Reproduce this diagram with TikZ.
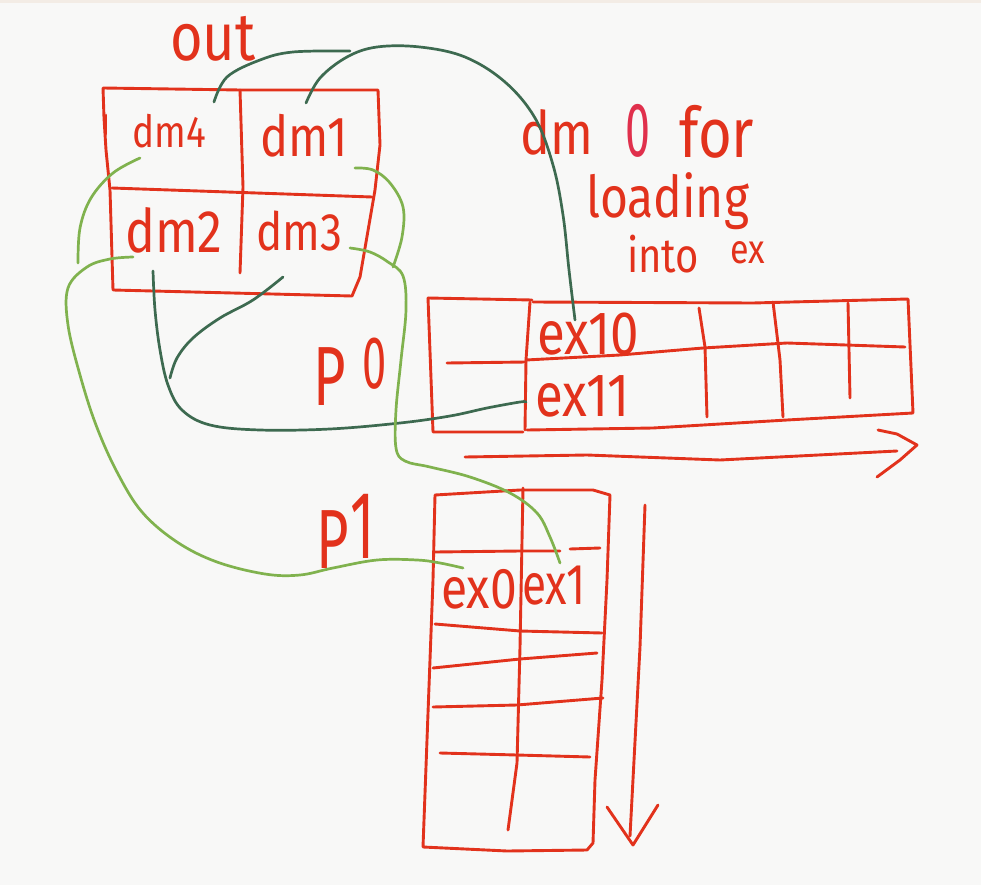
\documentclass[tikz,border=0pt]{standalone}
\usepackage{fontspec}
\setmainfont{Fira Sans}
\definecolor{penred}{HTML}{E2321C}
\definecolor{penpink}{HTML}{E0304C}
\definecolor{pendark}{HTML}{3D6A50}
\definecolor{penlight}{HTML}{80B24E}
\definecolor{paper}{HTML}{F8F8F7}
\definecolor{band}{HTML}{F3ECE5}
\tikzset{
  rd/.style={draw=penred, line width=2.9pt},
  dg/.style={draw=pendark, line width=2.7pt},
  lg/.style={draw=penlight, line width=2.7pt},
  hw/.style={text=penred, inner sep=0pt, anchor=base west, yscale=1.2},
}
\newcommand{\fs}[1]{\fontsize{#1}{#1}\selectfont}
\begin{document}
\begin{tikzpicture}[x=1pt,y=-1pt,line cap=round,line join=round]
\fill[paper] (0,0) rectangle (981,885);
\fill[band] (0,0) rectangle (981,3);
\useasboundingbox (0,0) rectangle (981,885);

% ---------- top table "out" ----------
\node[hw,font=\fs{56}] (outlbl) at (170,61) {out};
\draw[rd] (103,88) -- (240,90) -- (378,90) -- (380,145) -- (375,190) -- (360,277) -- (352,296) -- (113,290) -- (110,190) -- (106,150) -- (104,118) -- (103,88);
\draw[rd] (106,115) -- (106,134);
\draw[rd] (240,90) -- (243,187) -- (240,273);
\draw[rd] (112,188) -- (372,197);
\node[hw,font=\fs{37}] (dmfour) at (132,148) {dm4};
\node[hw,font=\fs{47}] (dmone) at (260,157) {dm1};
\node[hw,font=\fs{50}] (dmtwo) at (125,252) {dm2};
\node[hw,font=\fs{44}] (dmthree) at (256,250) {dm3};

% ---------- ex table (horizontal) ----------
\draw[rd] (428,298) -- (532,300);
\draw[rd] (533,302) -- (753,303) -- (908,299) -- (913,413) -- (787,420) -- (653,428) -- (527,430);
\draw[rd] (428,298) -- (433,432) -- (523,432);
\draw[rd] (530,302) -- (526,360) -- (525,430);
\draw[rd] (447,363) -- (526,362);
\draw[rd] (526,360) -- (620,355) -- (703,348) -- (787,343) -- (905,347);
\draw[rd] (699,308) -- (705,347) -- (707,417);
\draw[rd] (773,302) -- (780,360) -- (783,417);
\draw[rd] (848,303) -- (850,398);
\node[hw,font=\fs{51}] (exten) at (537,354) {ex10};
\node[hw,font=\fs{51}] (exeleven) at (535,416) {ex11};
% arrow to the right
\coordinate (rarrA) at (465,457);
\coordinate (rarrB) at (897,451);
\draw[rd] (rarrA) -- (587,455) -- (720,460) -- (rarrB);
\draw[rd] (878,430) -- (897,434) -- (917,445) -- (900,460) -- (877,477);

% ---------- ex table (vertical) ----------
\draw[rd] (435,495) -- (520,490) -- (593,490) -- (610,495) -- (607,580) -- (602,680) -- (595,780) -- (593,843) -- (587,850) -- (507,851) -- (423,847) -- (428,713) -- (433,580) -- cycle;
\draw[rd] (523,488) -- (520,647) -- (517,763) -- (508,830);
\draw[rd] (435,552) -- (520,551) -- (560,551);
\draw[rd] (570,549) -- (600,548);
\draw[rd] (435,624) -- (520,631) -- (602,633);
\draw[rd] (433,668) -- (520,659) -- (597,653);
\draw[rd] (433,707) -- (517,705) -- (603,698);
\draw[rd] (440,753) -- (517,755) -- (590,757);
\node[hw,font=\fs{48}] (exzero) at (441,608) {ex0};
\node[hw,font=\fs{48},xscale=0.92] (exone) at (522,604) {ex1};
% arrow downwards
\coordinate (darrA) at (645,505);
\coordinate (darrB) at (630,836);
\draw[rd] (darrA) -- (640,647) -- (darrB);
\draw[rd] (607,807) -- (633,845) -- (658,805);

% ---------- labels ----------
\node[hw,font=\fs{70},xscale=0.8] (pzeroP) at (313,405) {P};
\node[hw,font=\fs{62},xscale=0.7] (pzeroN) at (362,388) {0};
\node[hw,font=\fs{70},xscale=0.8] (poneP) at (316,568) {P};
\node[hw,font=\fs{80},xscale=0.7] (poneN) at (350,558) {1};
\node[hw,font=\fs{50}] (dmzero) at (520,155) {dm};
\node[hw,font=\fs{64},xscale=0.7,text=penpink] (zero) at (625,157) {0};
\node[hw,font=\fs{58}] (forlbl) at (679,158) {for};
\node[hw,font=\fs{48}] (loadlbl) at (586,218) {loading};
\node[hw,font=\fs{40}] (intolbl) at (627,272) {into};
\node[hw,font=\fs{34}] (exlbl) at (730,263) {ex};

% ---------- dark green connectors ----------
\coordinate (gAs) at (214,102);
\coordinate (gAe) at (350,51);
\draw[dg] plot[smooth,tension=0.6] coordinates {(gAs) (227,77) (260,60) (293,52) (gAe)};
\coordinate (gBs) at (306,103);
\coordinate (gBe) at (575,320);
\draw[dg] plot[smooth,tension=0.6] coordinates {(gBs) (320,78) (347,57) (377,47) (420,47) (465,57) (505,82) (535,118) (553,165) (563,215) (569,270) (gBe)};
\coordinate (gCs) at (153,271);
\coordinate (gCe) at (526,402);
\draw[dg] plot[smooth,tension=0.6] coordinates {(gCs) (155,310) (160,350) (168,385) (182,410) (210,425) (260,430) (330,429) (400,423) (450,416) (487,408) (520,402) (gCe)};
\coordinate (gDs) at (283,277);
\coordinate (gDe) at (170,378);
\draw[dg] plot[smooth,tension=0.6] coordinates {(gDs) (253,300) (220,318) (193,338) (177,358) (gDe)};

% ---------- light green connectors ----------
\coordinate (lEs) at (140,158);
\coordinate (lEe) at (78,263);
\draw[lg] plot[smooth,tension=0.6] coordinates {(lEs) (113,173) (91,198) (80,228) (lEe)};
\coordinate (lFs) at (133,257);
\coordinate (lFe) at (463,568);
\draw[lg] plot[smooth,tension=0.6] coordinates {(lFs) (110,259) (87,267) (68,288) (68,325) (80,375) (96,425) (117,472) (142,512) (177,542) (217,562) (265,574) (300,575) (333,568) (377,560) (417,560) (440,563) (lFe)};
\coordinate (lGs) at (355,168);
\coordinate (lGe) at (393,267);
\draw[lg] plot[smooth,tension=0.6] coordinates {(lGs) (373,170) (390,183) (403,207) (402,237) (lGe)};
\coordinate (lHs) at (350,248);
\coordinate (lHe) at (560,563);
\draw[lg] plot[smooth,tension=0.6] coordinates {(lHs) (370,252) (388,262) (403,276) (406,310) (401,360) (396,410) (396,448) (405,461) (430,467) (470,477) (510,493) (537,513) (550,537) (lHe)};
\end{tikzpicture}
\end{document}
